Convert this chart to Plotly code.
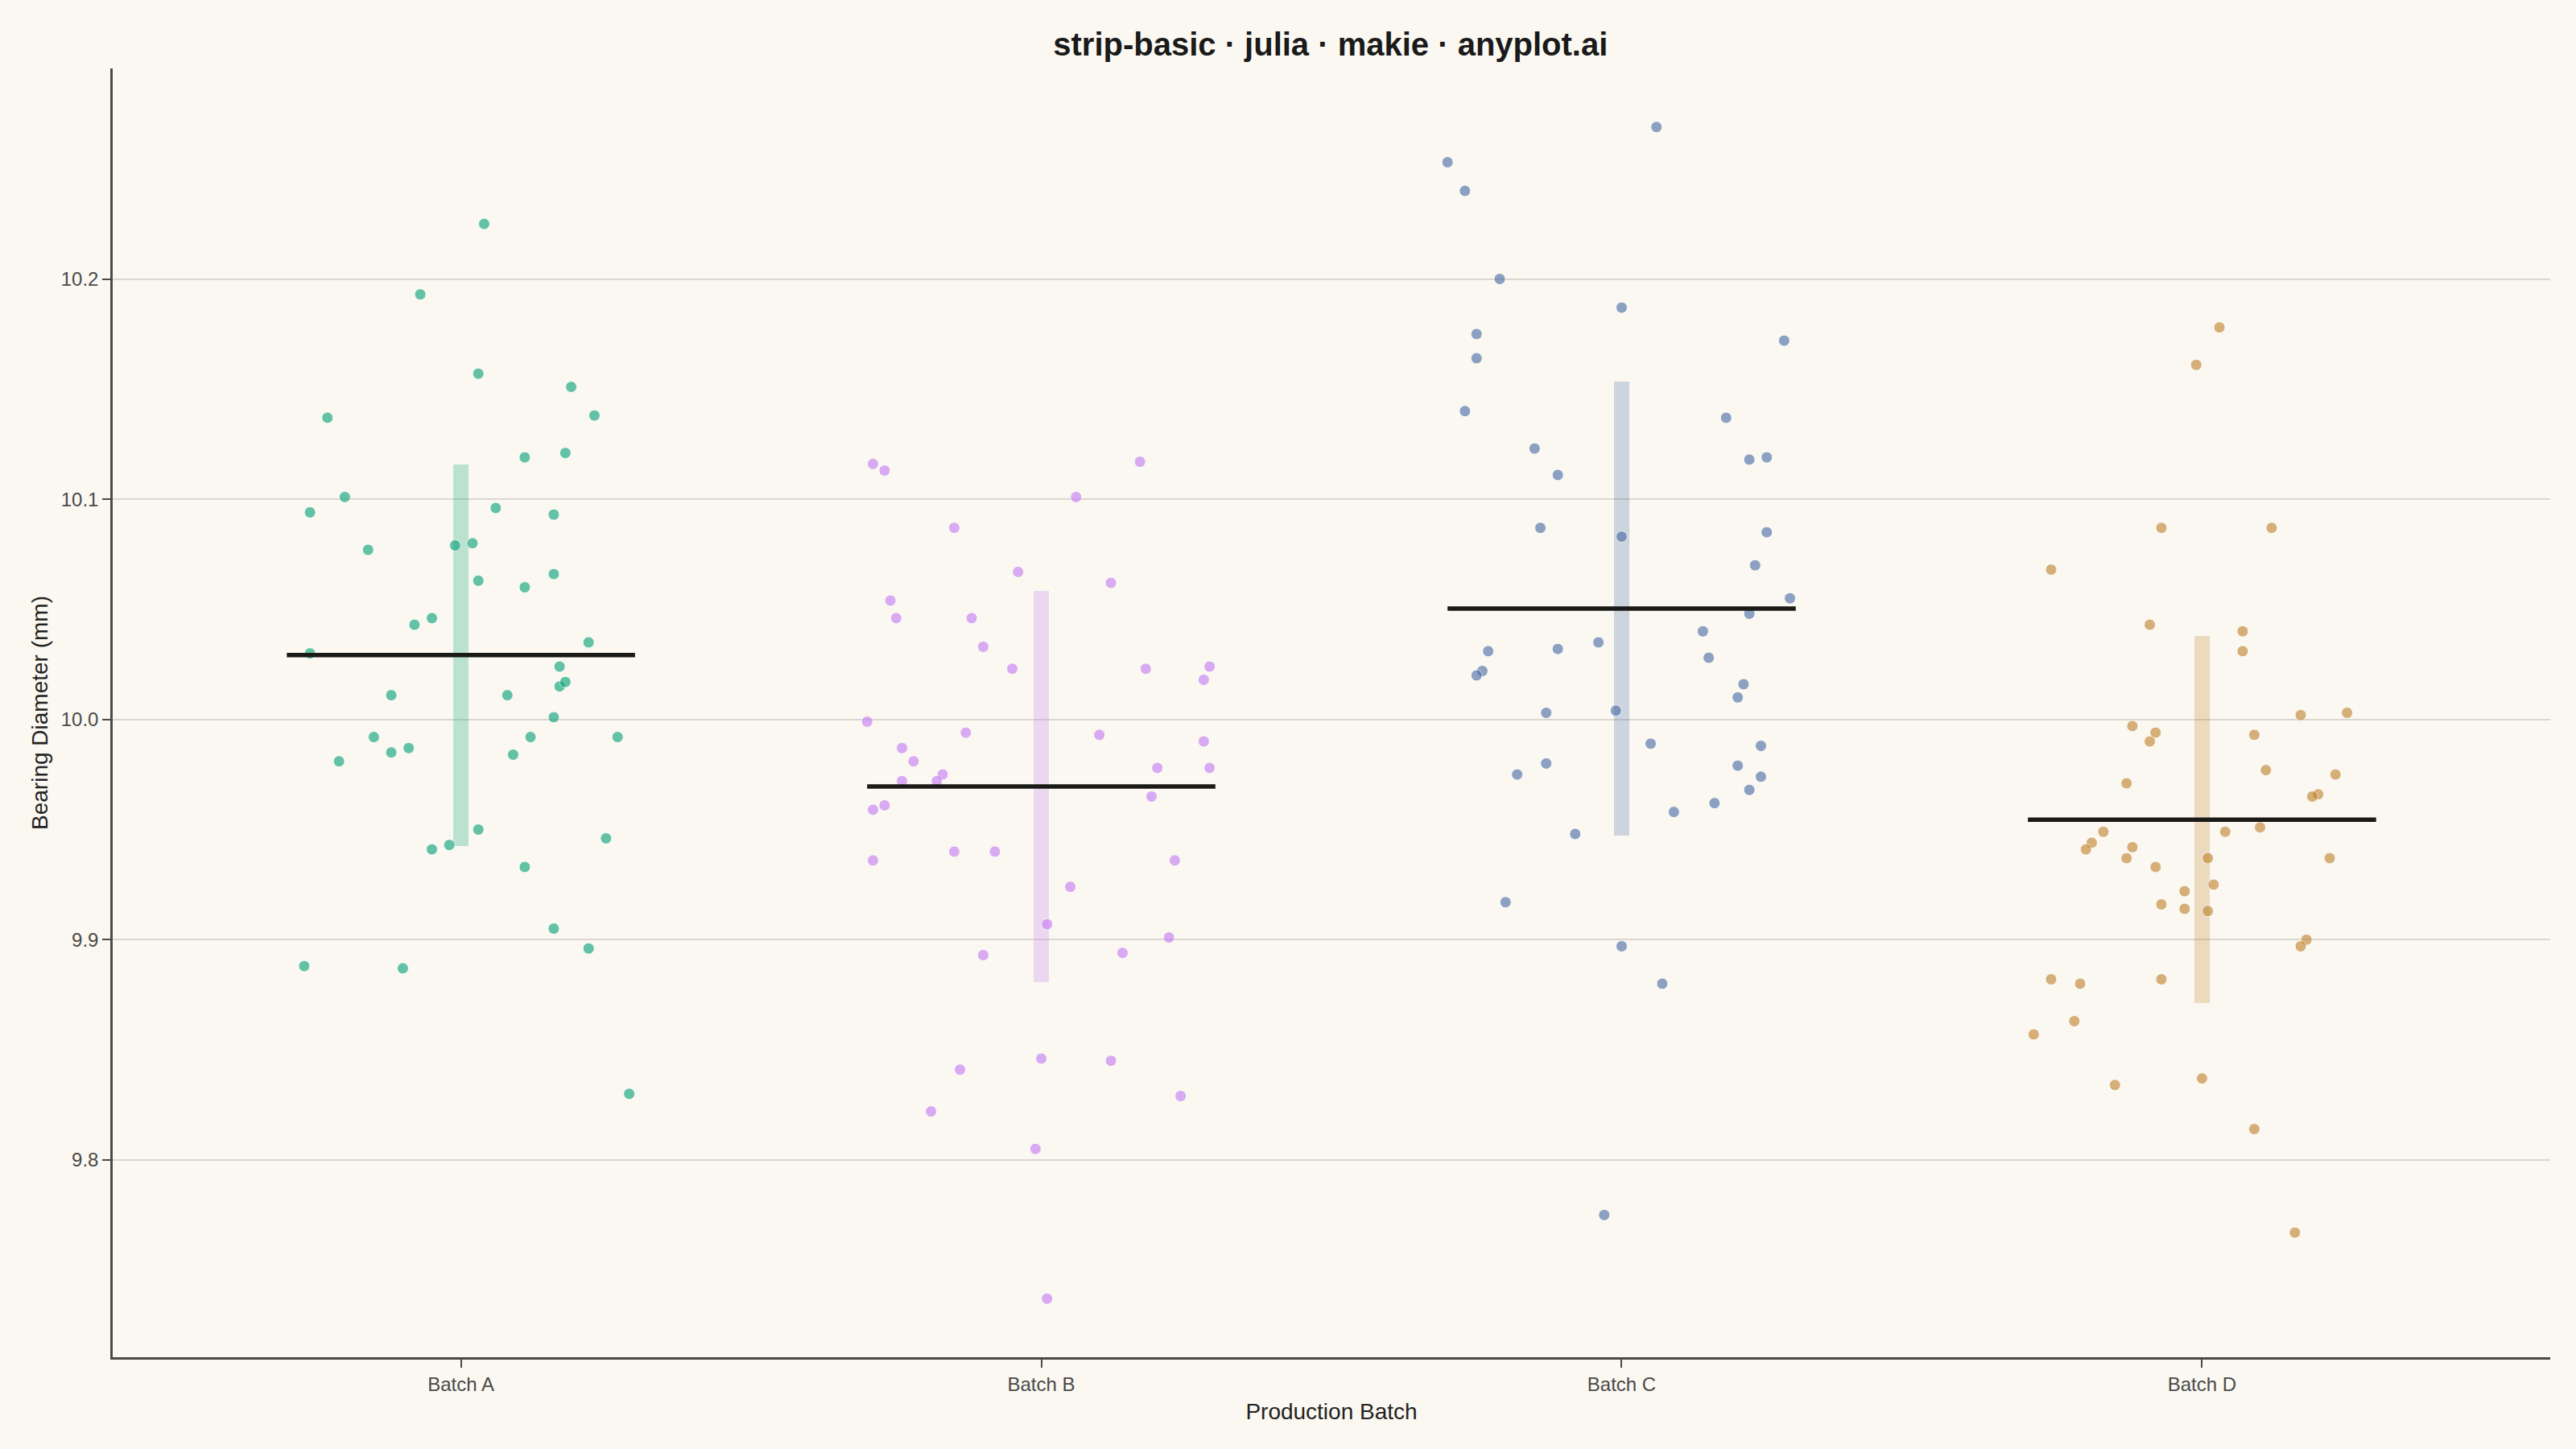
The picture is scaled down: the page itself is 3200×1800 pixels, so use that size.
import numpy as np
import plotly.graph_objects as go

# categories and colours
batches = ["Batch A", "Batch B", "Batch C", "Batch D"]
colors = ["#009E73", "#C475F2", "#4467A3", "#BE8027"]

# bearing diameters (mm), per batch
batch_a = [10.225, 10.193, 10.137, 10.157, 10.151, 10.138, 10.119, 10.121, 10.101,
           10.094, 10.096, 10.093, 10.077, 10.079, 10.080, 10.063, 10.060, 10.066,
           10.046, 10.043, 10.035, 10.030, 10.024, 10.011, 10.011, 10.015, 10.017,
           10.001, 9.992, 9.992, 9.992, 9.987, 9.985, 9.984, 9.981, 9.950, 9.943,
           9.941, 9.946, 9.933, 9.905, 9.896, 9.888, 9.887, 9.830]
batch_b = [10.116, 10.113, 10.117, 10.101, 10.087, 10.054, 10.046, 10.067, 10.062,
           10.046, 10.033, 10.023, 10.023, 10.024, 10.018, 9.999, 9.994, 9.993,
           9.990, 9.987, 9.981, 9.975, 9.972, 9.972, 9.978, 9.978, 9.961, 9.959,
           9.965, 9.936, 9.940, 9.940, 9.936, 9.924, 9.907, 9.901, 9.894, 9.893,
           9.841, 9.846, 9.845, 9.829, 9.822, 9.805, 9.737]
batch_c = [10.269, 10.253, 10.240, 10.200, 10.187, 10.175, 10.172, 10.164, 10.140,
           10.137, 10.123, 10.119, 10.118, 10.111, 10.087, 10.083, 10.085, 10.070,
           10.055, 10.048, 10.040, 10.035, 10.032, 10.031, 10.028, 10.022, 10.020,
           10.016, 10.010, 10.004, 10.003, 9.989, 9.988, 9.980, 9.979, 9.974, 9.975,
           9.968, 9.962, 9.958, 9.948, 9.917, 9.897, 9.880, 9.775]
batch_d = [10.178, 10.161, 10.087, 10.087, 10.068, 10.043, 10.040, 10.031, 10.003,
           10.002, 9.997, 9.994, 9.993, 9.990, 9.977, 9.975, 9.971, 9.966, 9.965,
           9.949, 9.949, 9.951, 9.944, 9.941, 9.942, 9.937, 9.937, 9.937, 9.933,
           9.925, 9.922, 9.916, 9.914, 9.913, 9.900, 9.897, 9.882, 9.882, 9.880,
           9.863, 9.857, 9.834, 9.837, 9.814, 9.767]

# horizontal jitter of each point (category units)
jitter_a = [0.04, -0.07, -0.23, 0.03, 0.19, 0.23, 0.11, 0.18, -0.20, -0.26, 0.06, 0.16,
            -0.16, -0.01, 0.02, 0.03, 0.11, 0.16, -0.05, -0.08, 0.22, -0.26, 0.17, -0.12,
            0.08, 0.17, 0.18, 0.16, -0.15, 0.12, 0.27, -0.09, -0.12, 0.09, -0.21, 0.03,
            -0.02, -0.05, 0.25, 0.11, 0.16, 0.22, -0.27, -0.10, 0.29]
jitter_b = [-0.29, -0.27, 0.17, 0.06, -0.15, -0.26, -0.25, -0.04, 0.12, -0.12, -0.10,
            -0.05, 0.18, 0.29, 0.28, -0.30, -0.13, 0.10, 0.28, -0.24, -0.22, -0.17, -0.18,
            -0.24, 0.20, 0.29, -0.27, -0.29, 0.19, -0.29, -0.15, -0.08, 0.23, 0.05, 0.01,
            0.22, 0.14, -0.10, -0.14, 0.00, 0.12, 0.24, -0.19, -0.01, 0.01]
jitter_c = [0.06, -0.30, -0.27, -0.21, 0.00, -0.25, 0.28, -0.25, -0.27, 0.18, -0.15,
            0.25, 0.22, -0.11, -0.14, 0.00, 0.25, 0.23, 0.29, 0.22, 0.14, -0.04, -0.11,
            -0.23, 0.15, -0.24, -0.25, 0.21, 0.20, -0.01, -0.13, 0.05, 0.24, -0.13, 0.20,
            0.24, -0.18, 0.22, 0.16, 0.09, -0.08, -0.20, 0.00, 0.07, -0.03]
jitter_d = [0.03, -0.01, -0.07, 0.12, -0.26, -0.09, 0.07, 0.07, 0.25, 0.17, -0.12,
            -0.08, 0.09, -0.09, 0.11, 0.23, -0.13, 0.20, 0.19, -0.17, 0.04, 0.10, -0.19,
            -0.20, -0.12, -0.13, 0.01, 0.22, -0.08, 0.02, -0.03, -0.07, -0.03, 0.01, 0.18,
            0.17, -0.26, -0.07, -0.21, -0.22, -0.29, -0.15, 0.00, 0.09, 0.16]

values = [batch_a, batch_b, batch_c, batch_d]
jitters = [jitter_a, jitter_b, jitter_c, jitter_d]


def rgba(hex_color, alpha):
    h = hex_color.lstrip("#")
    r, g, b = int(h[0:2], 16), int(h[2:4], 16), int(h[4:6], 16)
    return f"rgba({r},{g},{b},{alpha})"


fig = go.Figure()

# mean +/- std bands behind the points
for i, vals in enumerate(values):
    m = np.mean(vals)
    s = np.std(vals, ddof=1)
    fig.add_trace(go.Bar(x=[i], y=[2 * s], base=[m - s], width=0.027,
                         marker=dict(color=rgba(colors[i], 0.25), line=dict(width=0)),
                         hoverinfo="skip", showlegend=False))

# jittered points
for i, vals in enumerate(values):
    xs = [i + j for j in jitters[i]]
    fig.add_trace(go.Scatter(x=xs, y=vals, mode="markers", name=batches[i],
                             marker=dict(size=14, color=colors[i], opacity=0.6,
                                         line=dict(color="white", width=1)),
                             showlegend=False))

# mean lines
for i, vals in enumerate(values):
    m = np.mean(vals)
    fig.add_trace(go.Scatter(x=[i - 0.3, i + 0.3], y=[m, m], mode="lines",
                             line=dict(color="#1a1a17", width=5.5),
                             hoverinfo="skip", showlegend=False))

all_vals = np.concatenate(values)
lo, hi = all_vals.min(), all_vals.max()
pad = 0.05 * (hi - lo)

bg = "#FAF8F1"
fig.update_layout(
    width=3200, height=1800,
    paper_bgcolor=bg, plot_bgcolor=bg,
    margin=dict(l=140, r=32, t=85, b=114),
    font=dict(family="Liberation Sans, Arial, sans-serif", color="#4a4a4a"),
    title=dict(text="<b>strip-basic · julia · makie · anyplot.ai</b>",
               x=0.5165, xanchor="center", y=0.9695, yanchor="middle",
               font=dict(size=40, color="#1a1a1a")),
    bargap=0,
)
fig.update_xaxes(
    range=[-0.6, 3.6], tickmode="array", tickvals=[0, 1, 2, 3], ticktext=batches,
    showgrid=False, zeroline=False,
    showline=True, linecolor="#4a4a46", linewidth=2.5,
    ticks="outside", ticklen=10, tickwidth=1.5, tickcolor="#4a4a46",
    tickfont=dict(size=24, color="#4a4a4a"),
    title=dict(text="Production Batch", font=dict(size=28, color="#222222"), standoff=12),
)
fig.update_yaxes(
    range=[lo - pad, hi + pad], tickvals=[9.8, 9.9, 10.0, 10.1, 10.2],
    ticktext=["9.8", "9.9", "10.0", "10.1", "10.2"],
    showgrid=True, gridcolor="#dad7d0", gridwidth=2, zeroline=False,
    showline=True, linecolor="#4a4a46", linewidth=2.5,
    ticks="outside", ticklen=10, tickwidth=1.5, tickcolor="#4a4a46",
    tickfont=dict(size=24, color="#4a4a4a"),
    title=dict(text="Bearing Diameter (mm)", font=dict(size=28, color="#222222"), standoff=8),
)

# drop the browser's default page margin so the figure sits at the window origin
page_fix = "document.body.style.margin='0';document.body.style.background='#FAF8F1';"
fig.write_html("out.html", post_script=page_fix, config={"displayModeBar": False})
